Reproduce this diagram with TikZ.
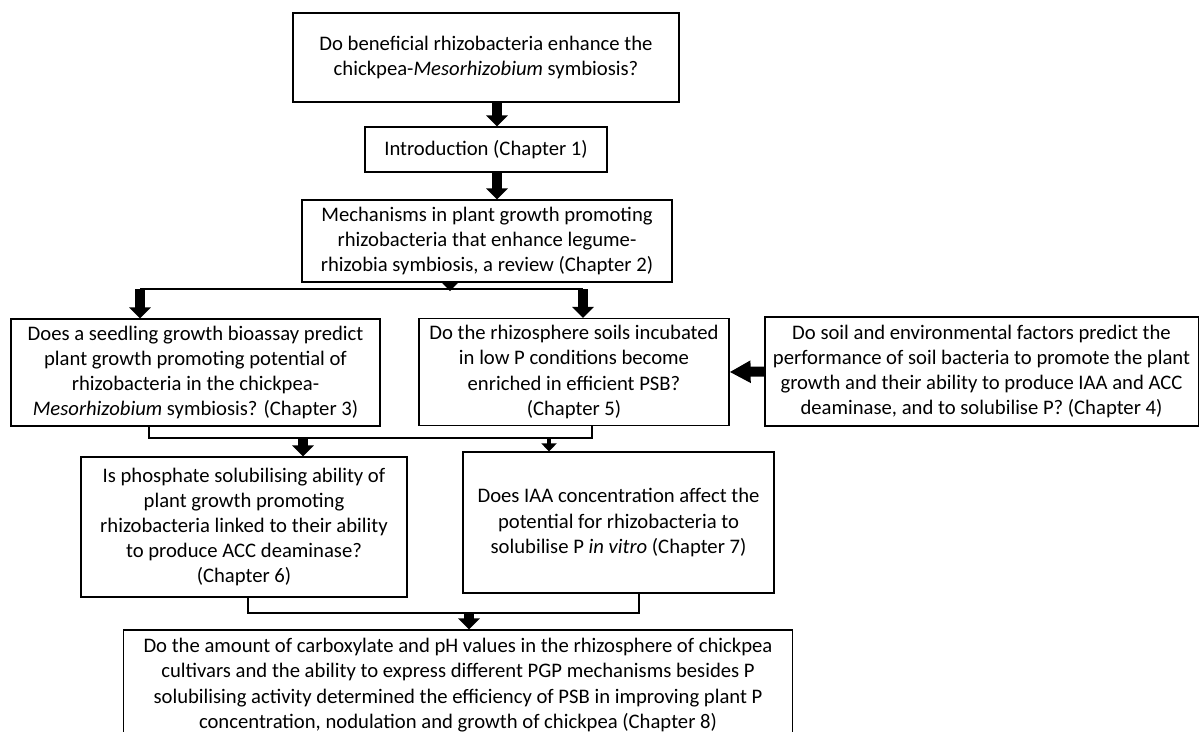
\documentclass[tikz,border=0pt]{standalone}
\usepackage{fontspec}
\setmainfont{Carlito}
\usepackage{tikz}
\usetikzlibrary{
  arrows.meta,
  calc
}

\begin{document}
\begin{tikzpicture}[
    x=0.025cm, y=-0.025cm,
    qbox/.style={
      rectangle, draw=black, line width=0.8pt, fill=white,
      align=center, inner sep=2pt,
      font=\fontsize{14.7pt}{17.9pt}\selectfont
    },
    link/.style={draw=black, line width=0.8pt},
    flow/.style={-{Triangle[width=5.25mm,length=2.75mm]}, line width=2.4mm},
    flowsmall/.style={-{Triangle[width=3.75mm,length=2mm]}, line width=1mm},
    flowside/.style={-{Triangle[width=5.25mm,length=5.25mm]}, line width=2.5mm}
  ]

  \useasboundingbox (0,0) rectangle (1200,731);

  %% Main question and the first chapters
  \node[qbox, minimum width=9.65cm, minimum height=2.225cm] (q) at (486,57.5)
    {Do beneficial rhizobacteria enhance the\\ chickpea-\textit{Mesorhizobium} symbiosis?};
  \node[qbox, minimum width=6.05cm, minimum height=1.125cm] (intro) at (486,149.5)
    {Introduction (Chapter 1)};
  \node[qbox, minimum width=9.25cm, minimum height=2.05cm] (mech) at (487,241)
    {Mechanisms in plant growth promoting\\ rhizobacteria that enhance legume-\\ rhizobia symbiosis, a review (Chapter 2)};

  %% Second row
  \node[qbox, minimum width=9.225cm, minimum height=2.675cm] (ch3) at (195.5,372.5)
    {Does a seedling growth bioassay predict\\ plant growth promoting potential of\\ rhizobacteria in the chickpea-\\ \textit{Mesorhizobium} symbiosis? (Chapter 3)};
  \node[qbox, minimum width=7.75cm, minimum height=2.675cm] (ch5) at (574,372)
    {Do the rhizosphere soils incubated\\ in low P conditions become\\ enriched in efficient PSB?\\ (Chapter 5)};
  \node[qbox, minimum width=10.825cm, minimum height=2.725cm] (ch4) at (981.5,371.5)
    {Do soil and environmental factors predict the\\ performance of soil bacteria to promote the plant\\ growth and their ability to produce IAA and ACC\\ deaminase, and to solubilise P? (Chapter 4)};

  %% Third row
  \node[qbox, minimum width=8.15cm, minimum height=3.5cm] (ch6) at (244,527)
    {Is phosphate solubilising ability of\\ plant growth promoting\\ rhizobacteria linked to their ability\\ to produce ACC deaminase?\\ (Chapter 6)};
  \node[qbox, minimum width=7.775cm, minimum height=3.525cm] (ch7) at (618.5,522.5)
    {Does IAA concentration affect the\\ potential for rhizobacteria to\\ solubilise P \textit{in vitro} (Chapter 7)};

  %% Last chapter
  \node[qbox, minimum width=16.7cm, minimum height=2.75cm] (ch8) at (458,685)
    {Do the amount of carboxylate and pH values in the rhizosphere of chickpea\\ cultivars and the ability to express different PGP mechanisms besides P\\ solubilising activity determined the efficiency of PSB in improving plant P\\ concentration, nodulation and growth of chickpea (Chapter 8)};

  %% Joints
  \coordinate (ax) at (497,0);
  \coordinate (j1l) at (140,289);
  \coordinate (j1m) at (450,289);
  \coordinate (j1r) at (583,289);
  \coordinate (j2l) at (149,438);
  \coordinate (j2a) at (303,438);
  \coordinate (j2b) at (549,438);
  \coordinate (j2r) at (592,438);
  \coordinate (j3l) at (248,613);
  \coordinate (j3a) at (469,613);
  \coordinate (j3r) at (639,613);

  %% Connectors
  \draw[flow] (q.south -| ax) -- (intro.north -| ax);
  \draw[flow] (intro.south -| ax) -- (mech.north -| ax);

  \draw[link] (j1l) -- (j1r);
  \draw[flowsmall] (mech.south -| j1m) -- ([yshift=-1.5pt]j1m);
  \draw[flow] (j1l) -- (ch3.north -| j1l);
  \draw[flow] (j1r) -- (ch5.north -| j1r);

  \draw[flowside] (ch4.west) -- (ch5.east);

  \draw[link] (ch3.south -| j2l) -- (j2l) -- (j2r) -- (ch5.south -| j2r);
  \draw[flow] (j2a) -- (ch6.north -| j2a);
  \draw[flowsmall] (j2b) -- (ch7.north -| j2b);

  \draw[link] (ch6.south -| j3l) -- (j3l) -- (j3r) -- (ch7.south -| j3r);
  \draw[flow] (j3a) -- (ch8.north -| j3a);

\end{tikzpicture}
\end{document}
